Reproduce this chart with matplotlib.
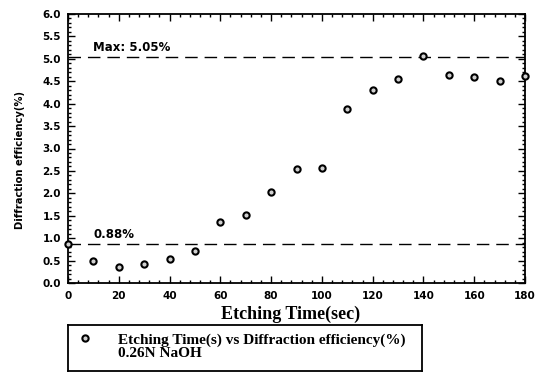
import numpy as np
import matplotlib.pyplot as plt
from matplotlib.lines import Line2D
from matplotlib.ticker import MultipleLocator

# data
etch_time = [0, 10, 20, 30, 40, 50, 60, 70, 80, 90, 100, 110, 120, 130, 140, 150, 160, 170, 180]
efficiency = [0.88, 0.50, 0.35, 0.42, 0.53, 0.72, 1.35, 1.52, 2.04, 2.55, 2.57,
              3.87, 4.31, 4.54, 5.06, 4.65, 4.60, 4.50, 4.61]
max_level = 5.05
start_level = 0.88
legend_labels = ["Etching Time(s) vs Diffraction efficiency(%)", "0.26N NaOH"]

plt.rcParams["font.family"] = "DejaVu Sans"
plt.rcParams["font.weight"] = "bold"

W, H = 535, 372
fig = plt.figure(figsize=(W / 100, H / 100), dpi=100)
ax = fig.add_axes([68 / W, 1 - 283 / H, (525 - 68) / W, (283 - 14) / H])

ax.axhline(max_level, color="black", lw=1.0, dashes=(9, 5))
ax.axhline(start_level, color="black", lw=1.0, dashes=(9, 5))

pts, = ax.plot(etch_time, efficiency, "o", ms=4.5, mfc="#d0d0d0", mec="black", mew=1.5,
               clip_on=False, zorder=5)

ax.text(10, max_level + 0.05, "Max: 5.05%", fontweight="bold", fontsize=8.5, va="bottom")
ax.text(10, start_level + 0.05, "0.88%", fontweight="bold", fontsize=8.5, va="bottom")

ax.set_xlim(0, 180)
ax.set_ylim(0, 6.0)
ax.xaxis.set_major_locator(MultipleLocator(20))
ax.xaxis.set_minor_locator(MultipleLocator(4))
ax.yaxis.set_major_locator(MultipleLocator(0.5))
ax.yaxis.set_minor_locator(MultipleLocator(0.1))
ax.tick_params(which="both", direction="in", top=True, right=True, width=1.0, labelsize=7.5)
ax.tick_params(which="major", length=5)
ax.tick_params(which="minor", length=2.5)
ax.tick_params(axis="x", pad=6)
ax.tick_params(axis="y", pad=5)
ax.yaxis.set_major_formatter(plt.FuncFormatter(lambda v, p: f"{v:.1f}"))
for s in ax.spines.values():
    s.set_linewidth(1.3)

ax.set_xlabel("Etching Time(sec)", fontfamily="Liberation Serif", fontweight="bold",
              fontsize=13)
ax.xaxis.set_label_coords(0.487, -0.085)
ax.set_ylabel("Diffraction efficiency(%)", fontweight="bold", fontsize=7.2)
ax.yaxis.set_label_coords(-0.093, 0.457)

# legend box below the plot
lax = fig.add_axes([68 / W, 0.002, (422 - 68) / W, (371 - 325) / H])
lax.set_xticks([])
lax.set_yticks([])
for s in lax.spines.values():
    s.set_linewidth(1.3)
blank = Line2D([], [], linestyle="none", marker="none")
lax.legend([pts, blank], legend_labels, loc="upper left",
           prop={"family": "Liberation Serif", "size": 11, "weight": "bold"},
           frameon=False, handlelength=1.2, handletextpad=1.6, labelspacing=0.0,
           borderpad=0.4, borderaxespad=0.1)

fig.savefig("out.png", dpi=100)
